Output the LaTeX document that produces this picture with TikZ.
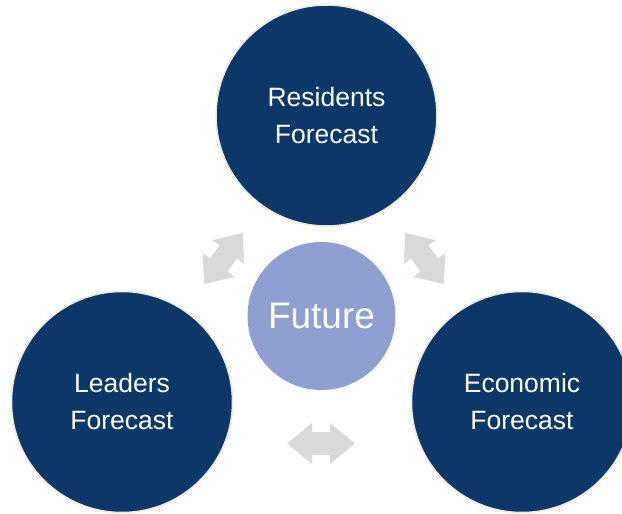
\documentclass[tikz,border=0pt]{standalone}
\usepackage{fontspec}
\setmainfont{Liberation Sans}
\definecolor{navy}{HTML}{0B3869}
\definecolor{peri}{HTML}{8E9FD0}
\definecolor{rim}{HTML}{ECE8D8}
\definecolor{agrey}{HTML}{D9D9D9}
\tikzset{
  bigcircle/.style={circle, fill=navy, draw=rim, line width=1.5pt, minimum size=221pt, inner sep=0pt,
    text=white, align=center, font=\fontsize{26.5}{37}\selectfont},
  centrecircle/.style={circle, fill=peri, minimum size=148pt, inner sep=0pt,
    text=white, font=\fontsize{37}{44}\selectfont},
  dblarrow/.pic={
    \fill[agrey] (-32,0) -- (-8,20) -- (-8,11) -- (8,11) -- (8,20) -- (32,0)
      -- (8,-20) -- (8,-11) -- (-8,-11) -- (-8,-20) -- cycle;
  },
  dblarrowlong/.pic={
    \fill[agrey] (-34,0) -- (-9,20.5) -- (-9,11.5) -- (9,11.5) -- (9,20.5) -- (34,0)
      -- (9,-20.5) -- (9,-11.5) -- (-9,-11.5) -- (-9,-20.5) -- cycle;
  }
}
\begin{document}
\begin{tikzpicture}[x=1pt, y=-1pt]
\useasboundingbox (0,0) rectangle (622,514);
\begin{scope}
\clip (0,0) rectangle (622,514);
\pic[rotate=53] at (223.5,258.5) {dblarrow};
\pic[rotate=-53] at (424.5,258.5) {dblarrow};
\pic at (321,443.5) {dblarrowlong};
\node[bigcircle] (res) at (326.5,115.5) {Residents\\Forecast};
\node[bigcircle] (lead) at (122,402) {Leaders\\Forecast};
\node[bigcircle] (econ) at (522,402) {Economic\\Forecast};
\node[centrecircle] (fut) at (321.5,316) {Future};
\end{scope}
\end{tikzpicture}
\end{document}
